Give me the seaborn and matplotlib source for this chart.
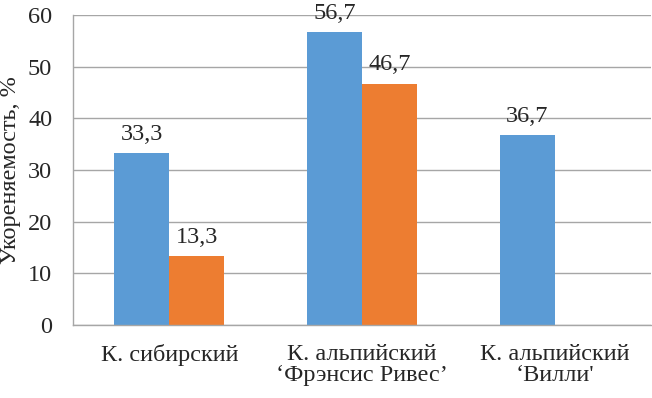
import pandas as pd
import matplotlib
matplotlib.use('Agg')
import matplotlib.pyplot as plt
import seaborn as sns
import numpy as np

# данные
categories = ['К. сибирский', 'К. альпийский\n‘Фрэнсис Ривес’', 'К. альпийский\n‘Вилли\'']
series_names = ['Серия 1', 'Серия 2']
values_1 = [33.3, 56.7, 36.7]
values_2 = [13.3, 46.7, np.nan]
colors = ['#5B9BD5', '#ED7D31']

fs = 17.5

sns.set_style('white')
plt.rcParams['font.family'] = ['Liberation Serif', 'DejaVu Serif']
plt.rcParams['font.size'] = fs

df = pd.DataFrame({
    'cat': categories * 2,
    'series': [series_names[0]] * 3 + [series_names[1]] * 3,
    'val': values_1 + values_2,
})

fig = plt.figure(figsize=(6.52, 3.98), dpi=100)
ax = fig.add_axes([73 / 652, 73 / 398, 578 / 652, 310 / 398])

sns.barplot(data=df, x='cat', y='val', hue='series', order=categories,
            palette=colors, width=0.57, saturation=1, legend=False,
            linewidth=0, ax=ax)

# подписи значений
for cont in ax.containers:
    labs = []
    for bar in cont:
        h = bar.get_height()
        labs.append('' if np.isnan(h) else f'{h:.1f}'.replace('.', ','))
    ax.bar_label(cont, labels=labs, padding=6, fontsize=fs)

ax.set_ylim(0, 60)
ax.set_yticks(range(0, 61, 10))
ax.set_xlim(-0.5, 2.5)
ax.set_xlabel('')
ax.set_ylabel('Укореняемость, %', fontsize=fs)
ax.yaxis.set_label_coords(-0.09, 0.5)

grid_c = '#A6A6A6'
ax.yaxis.grid(True, color=grid_c, linewidth=1)
ax.set_axisbelow(True)
for s in ['top', 'right']:
    ax.spines[s].set_visible(False)
for s in ['left', 'bottom']:
    ax.spines[s].set_color(grid_c)
    ax.spines[s].set_linewidth(1)

ax.tick_params(axis='y', length=5, color=grid_c, labelsize=fs, pad=10)
ax.tick_params(axis='x', which='major', length=0, labelsize=fs, pad=14)
for lab in ax.get_xticklabels():
    lab.set_linespacing(1.0)
ax.set_xticks([-0.5, 0.5, 1.5, 2.5], minor=True)
ax.tick_params(axis='x', which='minor', length=5, color=grid_c)

fig.savefig('out.png', dpi=100)
